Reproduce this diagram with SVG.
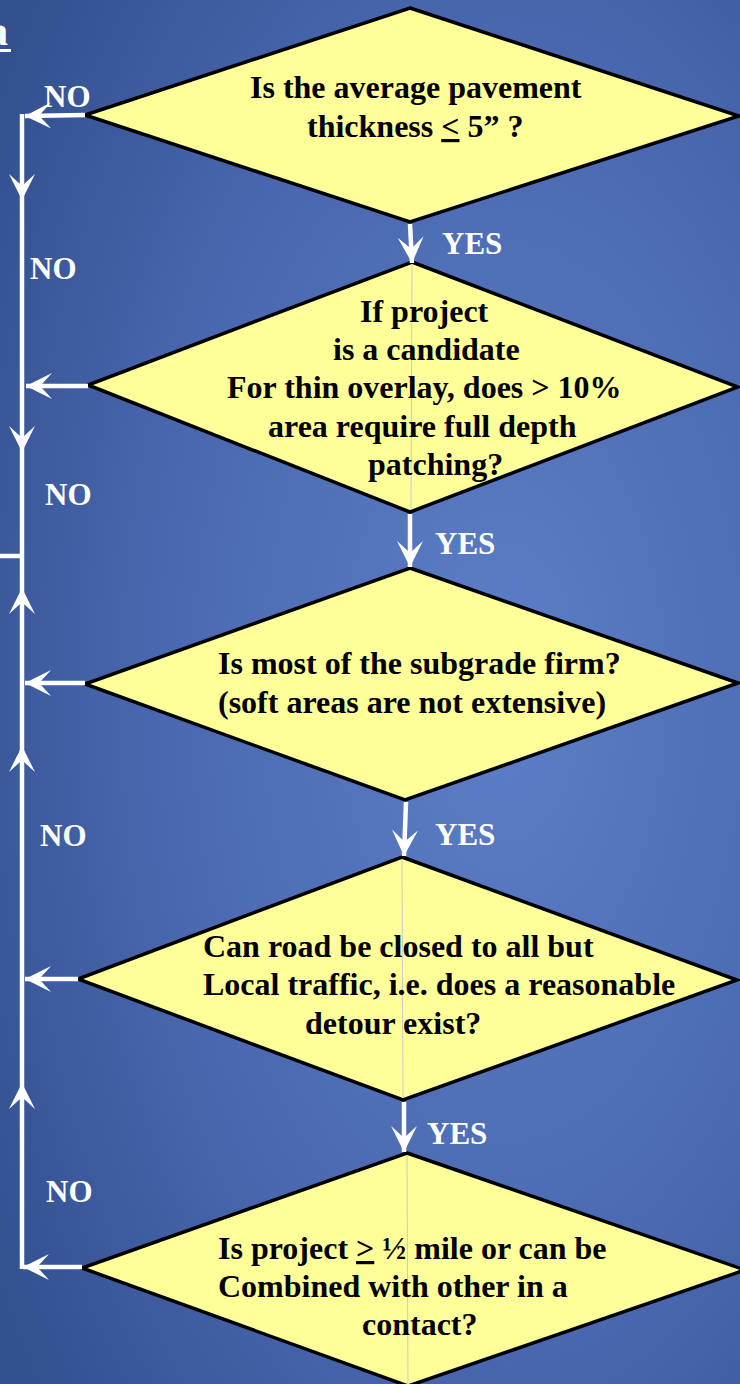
<svg xmlns="http://www.w3.org/2000/svg" width="740" height="1384" viewBox="0 0 740 1384">
<defs>
<radialGradient id="bg" cx="0.68" cy="0.5" r="0.8" fx="0.68" fy="0.5">
<stop offset="0" stop-color="#5c7fc7"/>
<stop offset="0.6" stop-color="#4867ae"/>
<stop offset="1" stop-color="#33508f"/>
</radialGradient>
<marker id="ah" markerUnits="userSpaceOnUse" markerWidth="30" markerHeight="30" viewBox="-28 -15 30 30" refX="0" refY="0" orient="auto">
<path d="M0,0 L-26,-13 Q-17,-3 -14,0 Q-17,3 -26,13 Z" fill="#ffffff"/>
</marker>
</defs>
<style>
.dia{fill:#ffff99;stroke:#000000;stroke-width:3.5;stroke-linejoin:miter}
.q{font-family:"Liberation Serif","Times New Roman",serif;font-weight:bold;font-size:32px;fill:#000000}
.lbl{font-family:"Liberation Serif","Times New Roman",serif;font-weight:bold;font-size:31px;fill:#ffffff}
.ln{stroke:#ffffff;stroke-width:4.5;fill:none}
.arr{stroke:#ffffff;stroke-width:4.5;fill:none;marker-end:url(#ah)}
.seam{stroke:#c9c9c9;stroke-width:1;fill:none}
</style>
<rect x="0" y="0" width="740" height="1384" fill="url(#bg)"/>
<g id="title">
<text x="-12" y="45" class="lbl" style="font-size:40px">a</text>
<rect x="0" y="49" width="11" height="3" fill="#ffffff"/>
</g>
<g id="node1">
<polygon class="dia" points="410,8 739,116 410,222 85,115"/>
<text class="q" x="250" y="98">Is the average pavement</text>
<text class="q" x="307" y="137">thickness <tspan text-decoration="underline">&lt;</tspan> 5” ?</text>
</g>
<g id="node2">
<polygon class="dia" points="412,262 738,387 410,512 88,385"/>
<line class="seam" x1="412" y1="264" x2="411" y2="510"/>
<text class="q" x="360" y="322">If project</text>
<text class="q" x="333" y="360">is a candidate</text>
<text class="q" x="227" y="398">For thin overlay, does &gt; 10%</text>
<text class="q" x="268" y="437">area require full depth</text>
<text class="q" x="368" y="475">patching?</text>
</g>
<g id="node3">
<polygon class="dia" points="410,568 738,683 405,800 85,684"/>
<text class="q" x="218" y="674">Is most of the subgrade firm?</text>
<text class="q" x="218" y="713">(soft areas are not extensive)</text>
</g>
<g id="node4">
<polygon class="dia" points="402,857 737,980 403,1100 78,979"/>
<line class="seam" x1="402" y1="859" x2="403" y2="1098"/>
<text class="q" x="203" y="957">Can road be closed to all but</text>
<text class="q" x="203" y="995">Local traffic, i.e. does a reasonable</text>
<text class="q" x="305" y="1034">detour exist?</text>
</g>
<g id="node5">
<polygon class="dia" points="407,1153 745,1270 408,1386 82,1268"/>
<line class="seam" x1="407" y1="1155" x2="408" y2="1384"/>
<text class="q" x="218" y="1259">Is project <tspan text-decoration="underline">&gt;</tspan> ½ mile or can be</text>
<text class="q" x="218" y="1297">Combined with other in a</text>
<text class="q" x="362" y="1335">contact?</text>
</g>
<g id="connectors">
<line class="arr" x1="410" y1="224" x2="412" y2="263"/>
<line class="arr" x1="410" y1="514" x2="410" y2="567"/>
<line class="arr" x1="406" y1="802" x2="404" y2="856"/>
<line class="arr" x1="404" y1="1102" x2="404" y2="1152"/>
<line class="arr" x1="85" y1="115" x2="25" y2="116"/>
<line class="arr" x1="88" y1="386" x2="26" y2="386"/>
<line class="arr" x1="85" y1="683" x2="25" y2="683"/>
<line class="arr" x1="78" y1="979" x2="25" y2="979"/>
<line class="arr" x1="82" y1="1267" x2="23" y2="1267"/>
<line class="arr" x1="22" y1="114" x2="22" y2="200"/>
<line class="arr" x1="22" y1="200" x2="22" y2="452"/>
<line class="ln" x1="22" y1="452" x2="22" y2="588"/>
<line class="arr" x1="22" y1="1269" x2="22" y2="1083"/>
<line class="arr" x1="22" y1="1083" x2="22" y2="746"/>
<line class="arr" x1="22" y1="746" x2="22" y2="588"/>
<line class="ln" x1="0" y1="556" x2="22" y2="556"/>
</g>
<g id="labels">
<text class="lbl" x="44" y="107">NO</text>
<text class="lbl" x="30" y="279">NO</text>
<text class="lbl" x="45" y="505">NO</text>
<text class="lbl" x="40" y="846">NO</text>
<text class="lbl" x="46" y="1202">NO</text>
<text class="lbl" x="442" y="254">YES</text>
<text class="lbl" x="435" y="554">YES</text>
<text class="lbl" x="435" y="845">YES</text>
<text class="lbl" x="427" y="1144">YES</text>
</g>
</svg>
